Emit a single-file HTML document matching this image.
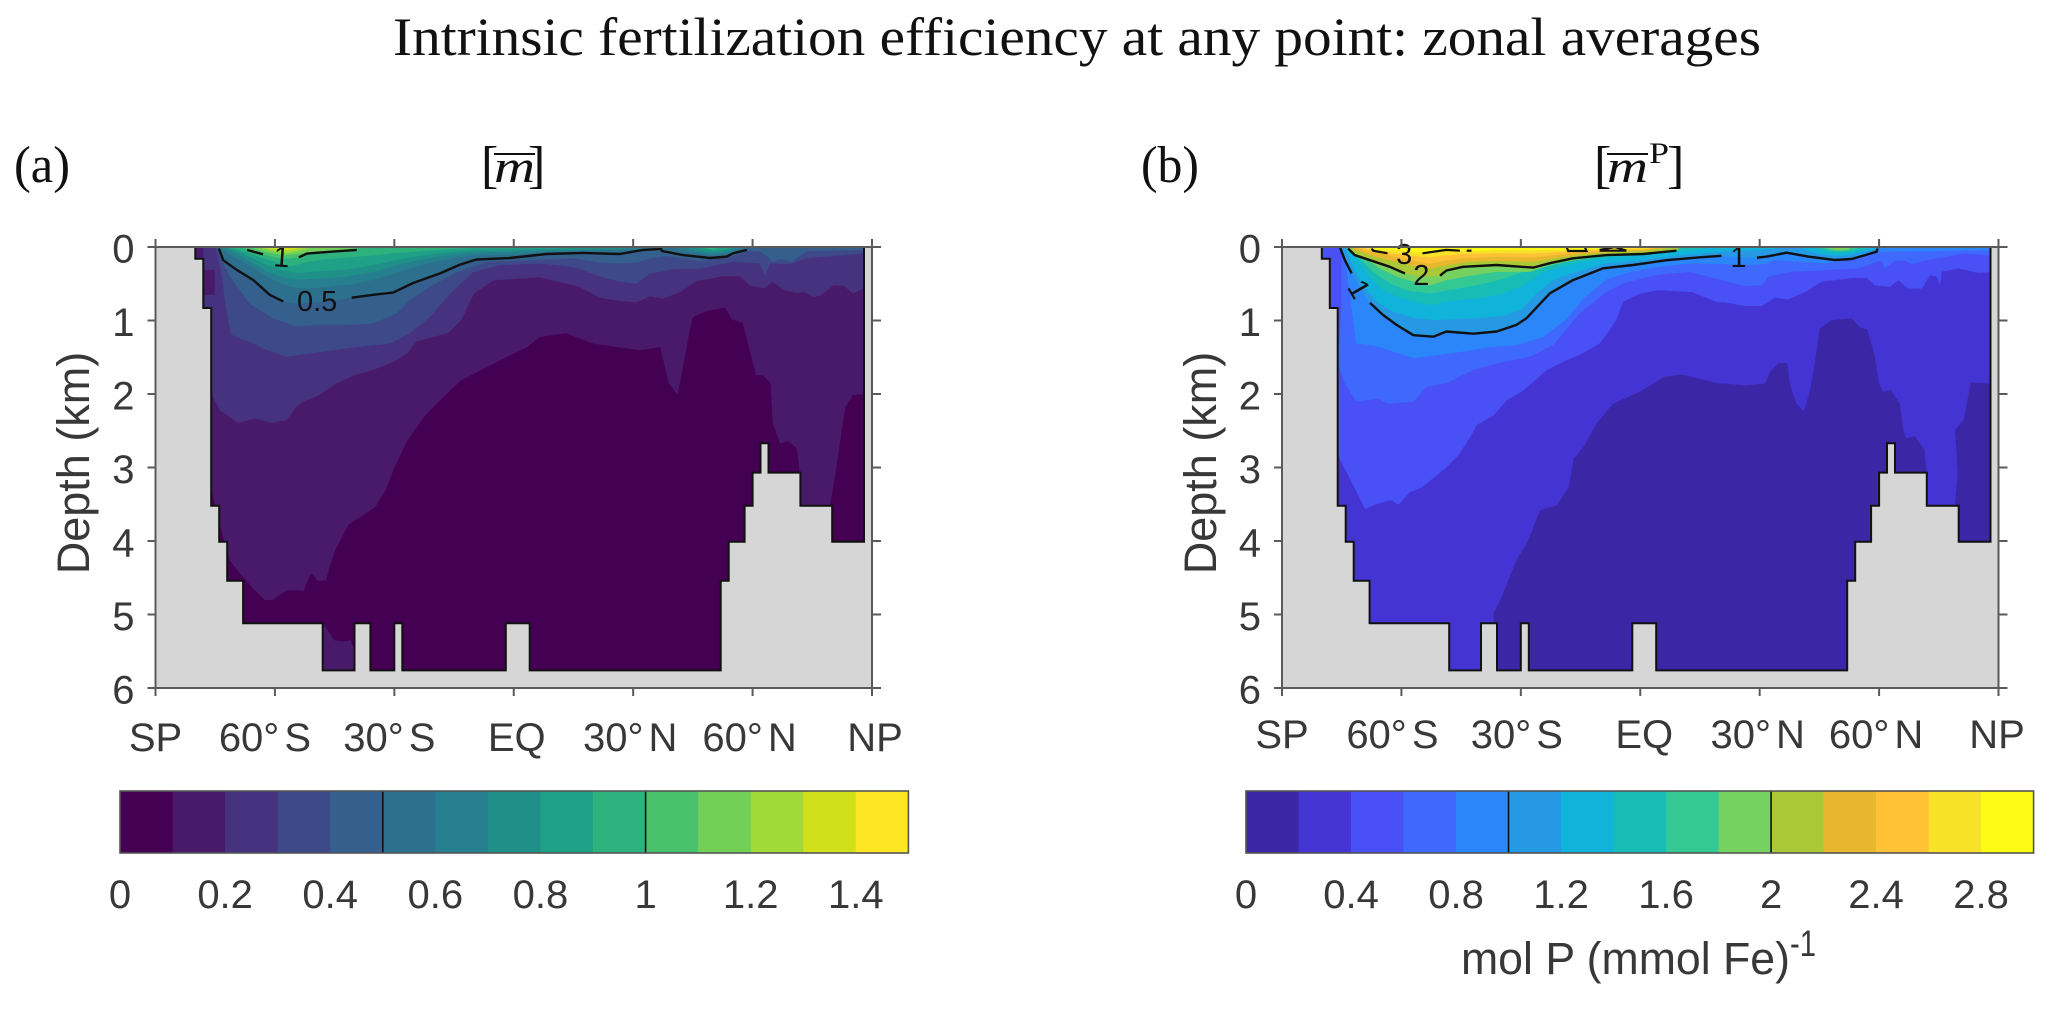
<!DOCTYPE html>
<html lang="en">
<head>
<meta charset="utf-8">
<title>Intrinsic fertilization efficiency: zonal averages</title>
<style>
html,body{margin:0;padding:0;background:#fff;}
svg{display:block;}
.sans{font-family:"Liberation Sans",Arial,sans-serif;fill:#383838;}
.serif{font-family:"Liberation Serif","Times New Roman",serif;fill:#111;}
</style>
</head>
<body>
<svg id="figure" xmlns="http://www.w3.org/2000/svg" width="2067" height="1012" viewBox="0 0 2067 1012">
  <rect width="2067" height="1012" fill="#fff"/>
  <text class="serif" x="393" y="55" font-size="54" textLength="1368" lengthAdjust="spacingAndGlyphs">Intrinsic fertilization efficiency at any point: zonal averages</text>
  <text class="serif" x="14" y="182" font-size="52" textLength="56" lengthAdjust="spacingAndGlyphs">(a)</text>
  <text class="serif" x="1141" y="182" font-size="52" textLength="58" lengthAdjust="spacingAndGlyphs">(b)</text>
  <g>
    <text class="serif" x="481" y="182" font-size="52">[</text>
    <text class="serif" x="494" y="182" font-size="45" font-style="italic" textLength="41" lengthAdjust="spacingAndGlyphs">m</text>
    <line x1="494" x2="535" y1="154" y2="154" stroke="#111" stroke-width="2"/>
    <text class="serif" x="528" y="182" font-size="52">]</text>
  </g>
  <g>
    <text class="serif" x="1594" y="182" font-size="52">[</text>
    <text class="serif" x="1607" y="182" font-size="45" font-style="italic" textLength="41" lengthAdjust="spacingAndGlyphs">m</text>
    <line x1="1607" x2="1648" y1="154" y2="154" stroke="#111" stroke-width="2"/>
    <text class="serif" x="1649" y="163" font-size="30" textLength="20" lengthAdjust="spacingAndGlyphs">P</text>
    <text class="serif" x="1667" y="182" font-size="52">]</text>
  </g>
  <text class="sans" transform="translate(89,463) rotate(-90)" text-anchor="middle" font-size="45">Depth (km)</text>
  <text class="sans" transform="translate(1216,463) rotate(-90)" text-anchor="middle" font-size="45">Depth (km)</text>
  <g>
    <text class="sans" x="1461" y="974" font-size="45.5" textLength="329" lengthAdjust="spacingAndGlyphs">mol P (mmol Fe)</text>
    <text class="sans" x="1790" y="956" font-size="37" textLength="26" lengthAdjust="spacingAndGlyphs">-1</text>
  </g>
</svg>
<script>
// Shared axis tick data
const xTickLats = [-90, -60, -30, 0, 30, 60, 90];
const xTickLabels = [['SP'], ['60°', 'S'], ['30°', 'S'], ['EQ'], ['30°', 'N'], ['60°', 'N'], ['NP']];
const depthTicks = [0, 1, 2, 3, 4, 5, 6];

// Sea-floor: latitude cell edges and the depth (km) of each cell
const bathLatEdges = [-80, -78, -76, -74, -72, -68, -48, -40, -36, -30, -28, -2, 4, 52, 54, 58, 60, 62, 64, 72, 80, 88];
const bathDepths = [0.16, 0.83, 3.52, 4.01, 4.54, 5.12, 5.76, 5.12, 5.76, 5.12, 5.76, 5.12, 5.76, 4.54, 4.01, 3.52, 3.07, 2.67, 3.07, 3.52, 4.01];

// Panel (a): contour levels, colours; each contour is [lat, depth km] pairs
const aLevels = [0, 0.1, 0.2, 0.3, 0.4, 0.5, 0.6, 0.7, 0.8, 0.9, 1.0, 1.1, 1.2, 1.3, 1.4];
const aColors = ['#440154', '#4a1a6a', '#46327e', '#3e4989', '#355f8d', '#2d708e', '#267f8e', '#1f9088', '#1fa187', '#2db27d', '#4ac16d', '#73d056', '#a0da39', '#d0e11c', '#fde725'];
const aTicks = [0, 0.2, 0.4, 0.6, 0.8, 1, 1.2, 1.4];
const a01 = [[-80,3.28],[-76,3.28],[-73.8,3.78],[-71.3,4.26],[-68.8,4.44],[-65,4.67],[-62.5,4.80],[-60.7,4.80],[-57,4.67],[-53.7,4.67],[-52.9,4.68],[-51.2,4.46],[-50.7,4.44],[-49.2,4.54],[-47.2,4.53],[-46.2,4.33],[-44.9,4.12],[-41.6,3.78],[-40.6,3.74],[-34.9,3.54],[-32.3,3.31],[-29.8,2.97],[-26.8,2.63],[-22.3,2.29],[-18.5,2.08],[-13.2,1.81],[-3.5,1.54],[3.3,1.36],[6.6,1.22],[13.1,1.17],[19.9,1.31],[31.5,1.40],[37,1.36],[37.2,1.44],[39,1.85],[41.1,2.0],[42.2,1.71],[44.3,1.09],[45,.95],[48.5,.87],[53.1,.82],[54.8,.98],[57.6,1.03],[58.9,1.31],[60.9,1.74],[62.6,1.74],[64.6,1.85],[65.1,2.39],[66.9,2.67],[68.9,2.64],[71.1,2.73],[71.6,2.92],[71.9,3.07],[72.4,3.58],[79.4,3.51],[80.7,3.10],[83.2,2.18],[85.2,2.01],[90,1.99]];
const a02 = [[-80,1.99],[-75.9,1.99],[-73.8,2.22],[-69.2,2.39],[-65,2.33],[-60.8,2.39],[-57.1,2.35],[-54.6,2.17],[-52.9,2.10],[-49.1,2.02],[-44.5,1.85],[-39.9,1.74],[-35.3,1.67],[-30.3,1.56],[-26.9,1.45],[-24.4,1.28],[-16.5,1.17],[-13.2,.99],[-10,.63],[-5,.45],[6.6,.41],[16.6,.54],[21.7,.69],[26.7,.73],[30.9,.75],[34.2,.67],[37.6,.70],[41.8,.61],[46,.46],[52.6,.395],[56.8,.395],[59.3,.52],[63.1,.56],[64.8,.47],[68.1,.585],[71.1,.62],[73.2,.61],[75.3,.68],[77.3,.65],[80.3,.52],[82.8,.52],[85.3,.63],[87.8,.56],[90,.56]];
const a03 = [[-74.8,0],[-73.6,.3],[-72.3,.8],[-71,1.19],[-65.4,1.31],[-62.1,1.40],[-57.1,1.49],[-50.4,1.44],[-40.3,1.365],[-31.1,1.31],[-26.1,1.17],[-21.1,.95],[-16,.63],[-10.2,.34],[-3.5,.245],[6.5,.22],[14.9,.27],[21.7,.40],[26.7,.47],[30.9,.495],[34.2,.36],[40.1,.30],[46.8,.29],[55.2,.20],[61.9,.22],[63.1,.38],[64.4,.22],[69.4,.23],[73.6,.15],[87.8,.086],[90,.086]];
const a04 = [[-74.6,0],[-73.4,.17],[-71,.42],[-66.3,.77],[-60.8,.96],[-54.6,1.08],[-50.4,1.06],[-43.7,1.06],[-35.3,1.04],[-29.4,.90],[-26.1,.72],[-21.1,.54],[-14.4,.34],[-6.9,.2],[6.5,.17],[14.9,.15],[21.7,.21],[26.7,.22],[30.9,.21],[34.2,.155],[38.4,.12],[46.8,.19],[55.2,.12],[59.3,.05],[61.9,.06],[63.5,.12],[65.2,.20],[66.9,.16],[69.8,.2],[73.6,.05],[87.8,.04],[90,.04]];
const a05 = [[-74.2,0],[-74.1,.02],[-73,.18],[-69.6,.31],[-65.4,.45],[-61.3,.65],[-57.9,.74],[-53.7,.77],[-49.1,.75],[-40.7,.69],[-35.3,.65],[-30.3,.62],[-25.3,.49],[-18.6,.36],[-13.5,.24],[-9.4,.17],[-1,.15],[8.2,.095],[17.4,.08],[26.6,.095],[32.5,.04],[36,.03],[37,.02],[37.2,.055],[42.6,.11],[49.3,.15],[53.5,.13],[55.1,.086],[58.6,.04],[58.8,0]];
const a06 = [[-74,0],[-72,.08],[-68,.2],[-64,.33],[-60,.46],[-56,.54],[-52,.56],[-48,.55],[-44,.52],[-40,.50],[-35,.44],[-30,.36],[-25,.27],[-20,.2],[-15,.15],[-10,.11],[0,.1],[10,.06],[20,.045],[30,.03],[36,.015],[38,0],[40,0],[44,.06],[50,.11],[54,.08],[58,0]];
const a07 = [[-73,0],[-70,.08],[-66,.2],[-62,.33],[-58,.41],[-54,.44],[-50,.43],[-46,.42],[-42,.40],[-38,.36],[-34,.32],[-30,.25],[-25,.19],[-20,.14],[-15,.10],[-10,.07],[0,.06],[10,.04],[20,.03],[30,.015],[36,0],[43,0],[46,.05],[50,.08],[54,.05],[56,0]];
const a08 = [[-72,0],[-70,.04],[-66,.14],[-62,.24],[-58,.31],[-54,.35],[-50,.33],[-46,.32],[-42,.30],[-38,.27],[-34,.23],[-30,.18],[-25,.13],[-20,.09],[-15,.06],[-10,.04],[0,.03],[10,.02],[20,.01],[26,0],[45,0],[50,.05],[54,.025],[55,0]];
const a09 = [[-71,0],[-68,.05],[-64,.13],[-60,.2],[-56,.26],[-52,.2],[-48,.17],[-44,.15],[-40,.13],[-35,.11],[-30,.08],[-25,.06],[-20,.04],[-15,.02],[-10,.01],[-6,0],[47,0],[50,.03],[53,0]];
const a10 = [[-67.5,0],[-67,.04],[-63,.1],[-58,.16],[-54,.14],[-52,.09],[-50,.08],[-45,.06],[-39.4,.04],[-39,0]];
const a11 = [[-66,0],[-63,.06],[-58,.11],[-54,.09],[-50,.06],[-45,.04],[-42,.03],[-40,0]];
const a12 = [[-64,0],[-60,.06],[-57,.08],[-54,.05],[-51,0]];
const a13 = [[-63,0],[-59,.04],[-56,.04],[-53,0]];
const a14 = [[-58,0],[-57,.015],[-56,0]];
const aBlobBottom = [[-48,5.12],[-45,5.35],[-43,5.37],[-41,5.35],[-40,5.48],[-40,5.76],[-48,5.76]];
const aBlobWall = [[-78,.31],[-75.1,.31],[-75.1,.65],[-78,.65]];
const aBlobCorner = [[-80,0],[-78,0],[-78,.16],[-80,.16]];

// Panel (b): contour levels, colours and contours
const bLevels = [0, 0.2, 0.4, 0.6, 0.8, 1.0, 1.2, 1.4, 1.6, 1.8, 2.0, 2.2, 2.4, 2.6, 2.8];
const bColors = ['#3b26a6', '#4534d4', '#4950f5', '#3f68fd', '#2b86f9', '#2699e5', '#10b3da', '#18bcb6', '#34c894', '#75d160', '#abc836', '#e7b82d', '#ffc136', '#f7e227', '#fcfb13'];
const bTicks = [0, 0.4, 0.8, 1.2, 1.6, 2, 2.4, 2.8];
const b02 = [[-80,6],[-37,6],[-36.9,5.12],[-36.9,4.98],[-35.2,4.80],[-31,4.24],[-28.5,4.03],[-25.2,3.58],[-21,3.51],[-18,3.26],[-16.8,2.88],[-14.3,2.72],[-11.8,2.47],[-11,2.40],[-6.9,2.13],[-.3,1.97],[6.2,1.76],[10.5,1.73],[19.5,1.85],[21.3,1.855],[26.3,1.88],[31.3,1.855],[32.6,1.70],[34.7,1.575],[37,1.575],[37.6,1.855],[39.3,2.13],[41.1,2.23],[42.6,1.95],[43.9,1.54],[45,1.11],[48.1,.99],[53.1,.97],[55.2,1.09],[57.1,1.12],[59,1.49],[60,1.855],[61.1,1.97],[62.9,1.94],[65.3,2.13],[66.1,2.49],[66.9,2.6],[69,2.57],[71.5,2.76],[72,3.07],[72,3.6],[79,3.6],[79,3.51],[79.7,3.08],[79,2.49],[81.2,2.35],[83,1.84],[87.9,1.855],[90,1.855]];
const b04 = [[-80,2.83],[-76,2.83],[-72.9,3.15],[-69.1,3.56],[-66.6,3.5],[-62.8,3.44],[-60.7,3.5],[-57.8,3.33],[-54.9,3.27],[-49,3.01],[-45.7,2.83],[-42.7,2.58],[-41.1,2.42],[-36.9,2.29],[-33.5,2.08],[-29.4,1.95],[-23.4,1.67],[-19.4,1.56],[-14.3,1.44],[-10.2,1.31],[-8,1.15],[-6.1,.99],[-4.3,.74],[0,.63],[4.7,.585],[13,.61],[19.5,.75],[21.3,.75],[26.3,.8],[30.5,.8],[33.9,.685],[37.2,.71],[41.4,.61],[45.6,.47],[53.1,.42],[56.9,.42],[59,.52],[62.7,.54],[64.8,.45],[67.3,.56],[70.7,.56],[72.8,.38],[74.5,.40],[75.3,.51],[75.7,.335],[79.9,.29],[84.9,.35],[87.9,.34],[90,.34]];
const b06 = [[-75,0],[-75,.8],[-75.9,1.58],[-74.2,1.85],[-71.3,2.10],[-65.8,2.06],[-63.3,2.13],[-57,2.10],[-53.7,1.90],[-48.7,1.85],[-42,1.67],[-34.4,1.56],[-27.7,1.49],[-21.9,1.33],[-19.4,1.17],[-15.2,.90],[-8.5,.61],[-4.3,.49],[4.1,.38],[12.4,.335],[20.8,.45],[26.3,.53],[30.5,.52],[32.2,.40],[38,.335],[54.8,.29],[60.6,.18],[61.5,.29],[64,.186],[66.5,.186],[68.2,.23],[71.5,.18],[81.6,.086],[87.4,.11],[90,.11]];
const b08 = [[-74.5,0],[-73.4,.45],[-71.3,1.31],[-67.9,1.33],[-65.4,1.36],[-62.1,1.42],[-57,1.51],[-51.2,1.47],[-44.5,1.42],[-37.8,1.36],[-31.1,1.33],[-24.4,1.22],[-18.5,.98],[-14.3,.70],[-8.5,.44],[-2.6,.335],[4.1,.27],[12.4,.22],[21.3,.23],[26.3,.245],[31.3,.23],[33.9,.177],[46.4,.22],[54.8,.15],[59.8,.064],[88,.04],[90,.04]];
const b10 = [[-75.5,0],[-75.4,.01],[-74.2,.18],[-72.5,.36],[-67.9,.76],[-64.6,.925],[-61.2,1.06],[-57,1.20],[-52,1.22],[-48.7,1.15],[-42,1.18],[-36.1,1.15],[-31.1,1.06],[-28.6,.97],[-22.7,.63],[-16.9,.45],[-9.3,.29],[-1.8,.245],[6.6,.18],[15,.14],[20.4,.12],[25,.13],[29.3,.145],[31.8,.13],[36.8,.077],[42.2,.13],[48.9,.177],[53.1,.163],[56.5,.11],[59.4,.063],[59.6,.02],[59.7,0]];
const b12 = [[-74.2,0],[-72.5,.22],[-70,.49],[-66.2,.74],[-62.1,.88],[-57,.96],[-52,.99],[-46.1,.98],[-39.5,.96],[-33.6,.925],[-29.4,.83],[-26.1,.63],[-21.9,.45],[-16,.335],[-8.5,.22],[0,.18],[8.3,.12],[16.6,.08],[22.5,.05],[29.2,.04],[33.4,.02],[35,0],[40,0],[42,.05],[45,.09],[49,.12],[53,.1],[56,.06],[59,.03],[60,0]];
const b14 = [[-73,0],[-71.3,.15],[-68.3,.38],[-64.6,.585],[-59.6,.70],[-52.8,.79],[-47.8,.73],[-41.1,.70],[-34.4,.63],[-29.4,.52],[-24.4,.335],[-18.5,.245],[-11,.154],[-.9,.11],[8.3,.064],[14.1,.03],[18.3,0],[43,0],[46,.06],[50,.08],[54,.06],[57,.02],[58,0]];
const b16 = [[-72.1,0],[-70,.18],[-67.1,.335],[-62.9,.49],[-58.7,.585],[-52.8,.63],[-47.8,.58],[-41.1,.52],[-34.4,.43],[-29.4,.335],[-24.4,.22],[-18.5,.154],[-11,.086],[-.9,.05],[6.6,.02],[10,0],[45,0],[48,.05],[51,.06],[54,.03],[55,0]];
const b18 = [[-71.7,0],[-69.2,.154],[-65.4,.29],[-61.2,.40],[-57,.47],[-52.8,.52],[-48.7,.45],[-43.6,.395],[-36.1,.335],[-27.7,.335],[-22.7,.245],[-16.9,.177],[-8.5,.12],[0,.095],[5.8,.04],[7.4,0],[46,0],[49,.04],[52,.04],[53,0]];
const b20 = [[-74,0],[-73.4,.02],[-71.7,.11],[-67.9,.18],[-62.9,.27],[-59.1,.36],[-55,.40],[-50.3,.39],[-48.7,.32],[-44.5,.27],[-36.1,.245],[-26.9,.28],[-22.7,.22],[-16.9,.154],[-8.5,.11],[.7,.095],[9.1,.05],[10,0]];
const b20North = [[47,0],[50,.02],[51,0]];
const b22 = [[-72.5,0],[-71.3,.04],[-67.9,.11],[-62.9,.18],[-57.9,.245],[-52.8,.29],[-48.7,.245],[-43.6,.2],[-36.1,.186],[-26.9,.2],[-21.9,.154],[-14.3,.095],[-6.8,.064],[.7,.05],[6.6,.01],[7,0]];
const b24 = [[-71.5,0],[-69,.05],[-65,.09],[-60,.15],[-56,.2],[-52.8,.22],[-48.7,.18],[-44,.15],[-36,.13],[-27,.14],[-22,.11],[-15,.07],[-7,.05],[.7,.035],[5,0]];
const b26 = [[-70.5,0],[-67,.045],[-62,.085],[-57,.12],[-52.8,.14],[-48.7,.11],[-44,.09],[-36,.08],[-27,.085],[-22,.07],[-15,.045],[-7,.03],[2,.02],[4,0]];
const b28 = [[-69.5,0],[-66,.03],[-60,.045],[-55,.07],[-52,.075],[-48,.05],[-42,.05],[-36,.04],[-27,.04],[-20,.035],[-14,.03],[-7,.02],[0,.01],[2,0]];
const bLevel3Left = [[-67.5,.02],[-67.1,.05],[-63.5,.086]];
const bLevel3Mid = [[-54.7,.086],[-48.7,.04],[-45.3,.05]];
const bLevel3Dash = [[-43.6,.05],[-42.4,.05]];
const bLevel3TriA = [[-18.5,0],[-18.1,.054],[-13.5,.054],[-13.9,0]];
const bLevel3TriB = [[-10.2,.04],[-6.4,0],[-3.5,.05],[-5.6,.05],[-10.2,.05]];

// Layout only (not data)
const PLOT_TOP = 247, PLOT_BOTTOM = 688, PLOT_W = 716.5;
const xLabelNudgeA = [0, -10, -5, 3, -3, -3, 3];
const xLabelNudgeB = [0, -9, -4, 4, -2, -3, -1.5];
const svg = document.getElementById('figure');
const NS = 'http://www.w3.org/2000/svg';

function mk(tag, attrs, parent) {
  const el = document.createElementNS(NS, tag);
  for (const k in attrs) el.setAttribute(k, attrs[k]);
  (parent || svg).appendChild(el);
  return el;
}

function drawPanel(p) {
  const xOf = lat => p.ox + (lat + 90) * PLOT_W / 180;
  const yOf = km => PLOT_TOP + km * (PLOT_BOTTOM - PLOT_TOP) / 6;
  const g = mk('g', {});
  
  

  // ocean base colour
  const base = mk('rect', {x: xOf(-90), y: yOf(0), width: PLOT_W, height: yOf(6) - yOf(0), fill: p.colors[0]}, g);
  
  

  // filled contour bands: each region lies between the curve and the surface
  p.bands.forEach((b, i) => {
    const color = p.colors[b.index];
    const pts = b.curve;
    let d = 'M' + xOf(pts[0][0]).toFixed(1) + ' ' + yOf(0).toFixed(1);
    pts.forEach(q => { d += 'L' + xOf(q[0]).toFixed(1) + ' ' + yOf(q[1]).toFixed(1); });
    d += 'L' + xOf(pts[pts.length - 1][0]).toFixed(1) + ' ' + yOf(0).toFixed(1) + 'Z';
    const band = mk('path', {d: d, fill: color, stroke: color, 'stroke-width': 0.5}, g);
    
    
  });

  // closed patches
  p.patches.forEach(b => {
    const d = 'M' + b.pts.map(q => xOf(q[0]).toFixed(1) + ' ' + yOf(q[1]).toFixed(1)).join('L') + 'Z';
    const patch = mk('path', {d: d, fill: p.colors[b.index]}, g);
    
    
  });

  // land mask built from the sea-floor arrays
  let floor = [];
  floor.push([bathLatEdges[0], 0]);
  bathDepths.forEach((dep, i) => {
    floor.push([bathLatEdges[i], dep]);
    floor.push([bathLatEdges[i + 1], dep]);
  });
  floor.push([bathLatEdges[bathLatEdges.length - 1], 0]);
  const floorStr = floor.map(q => xOf(q[0]).toFixed(1) + ' ' + yOf(q[1]).toFixed(1)).join('L');
  const land = mk('path', {
    d: 'M' + xOf(-90) + ' ' + yOf(0) + 'L' + floorStr + 'L' + xOf(90) + ' ' + yOf(0) + 'L' + xOf(90) + ' ' + yOf(6) + 'L' + xOf(-90) + ' ' + yOf(6) + 'Z',
    fill: '#d6d6d6'
  }, g);
  
  
  const floorLine = mk('path', {d: 'M' + floorStr, fill: 'none', stroke: '#111', 'stroke-width': 2}, g);
  
  

  // contour lines with gaps at their labels
  p.lines.forEach(l => {
    let d = '', pen = false, prev = null;
    l.curve.forEach(q => {
      const gaps = l.gaps || [];
      const hidden = q[1] === 0 || gaps.some(g2 => q[0] > g2[0] && q[0] < g2[1]);
      if (hidden) { pen = false; prev = q; return; }
      if (prev) {
        const mid = (prev[0] + q[0]) / 2;
        if (gaps.some(g2 => mid > g2[0] && mid < g2[1])) pen = false;
      }
      d += (pen ? 'L' : 'M') + xOf(q[0]).toFixed(1) + ' ' + yOf(q[1]).toFixed(1);
      pen = true;
      prev = q;
    });
    const line = mk('path', {d: d, fill: 'none', stroke: '#111', 'stroke-width': 2.4, 'stroke-linejoin': 'round'}, g);
    
    
  });
  p.segments.forEach(s => {
    const d = 'M' + s.map(q => xOf(q[0]).toFixed(1) + ' ' + yOf(q[1]).toFixed(1)).join('L');
    const seg = mk('path', {d: d, fill: 'none', stroke: '#111', 'stroke-width': 2.2}, g);
    
    
  });

  // contour labels
  p.labels.forEach(l => {
    const t = mk('text', {
      transform: 'translate(' + xOf(l.lat).toFixed(1) + ',' + yOf(l.km).toFixed(1) + ') rotate(' + (l.rot || 0) + ')',
      'text-anchor': 'middle', 'font-size': 29,
      'font-family': '"Liberation Sans",Arial,sans-serif', fill: '#111'
    }, g);
    t.textContent = l.text;
    
    
  });

  // axes
  const axColor = '#5a5a5a';
  const ax = mk('g', {stroke: axColor, 'stroke-width': 2, fill: 'none'}, g);
  
  
  mk('line', {x1: xOf(-90), x2: xOf(-90), y1: yOf(0), y2: yOf(6)}, ax);
  mk('line', {x1: xOf(90), x2: xOf(90), y1: yOf(0), y2: yOf(6)}, ax);

  depthTicks.forEach(v => {
    const tl = mk('line', {x1: xOf(-90) - 8, x2: xOf(90) + 9, y1: yOf(v), y2: yOf(v)}, ax);
    if (v !== 0 && v !== 6) tl.setAttribute('stroke-dasharray', '8 ' + PLOT_W + ' 9');
    
    
    const lab = mk('text', {x: xOf(-90) - 21, y: yOf(v) + 15.5, 'text-anchor': 'end', 'font-size': 40, class: 'sans'}, g);
    lab.textContent = v;
    
    
  });

  xTickLats.forEach((lat, i) => {
    const t1 = mk('line', {x1: xOf(lat), x2: xOf(lat), y1: yOf(0) - 8, y2: yOf(0)}, ax);
    
    
    const t2 = mk('line', {x1: xOf(lat), x2: xOf(lat), y1: yOf(6), y2: yOf(6) + 8}, ax);
    
    
    const lab = mk('text', {x: xOf(lat) + p.nudge[i], y: p.xLabelY, 'text-anchor': 'middle', 'font-size': 40, class: 'sans'}, g);
    lab.appendChild(document.createTextNode(xTickLabels[i][0]));
    if (xTickLabels[i][1]) {
      const sp = mk('tspan', {dx: 5}, lab);
      sp.textContent = xTickLabels[i][1];
    }
    
    
  });

  // colorbar
  const cb = mk('g', {}, svg);
  
  
  const cOf = v => p.cbx0 + (v / p.cmax) * (p.cbx1 - p.cbx0);
  const cy0 = 791, cy1 = 853;
  p.levels.forEach((lv, i) => {
    const hi = i + 1 < p.levels.length ? p.levels[i + 1] : p.cmax;
    const r = mk('rect', {x: cOf(lv), y: cy0, width: cOf(hi) - cOf(lv) + 0.4, height: cy1 - cy0, fill: p.colors[i]}, cb);
    
    
  });
  p.cbarLines.forEach(v => {
    const l = mk('line', {x1: cOf(v), x2: cOf(v), y1: cy0, y2: cy1, stroke: '#111', 'stroke-width': 1.6}, cb);
    
    
  });
  const frame = mk('rect', {x: p.cbx0, y: cy0, width: p.cbx1 - p.cbx0, height: cy1 - cy0, fill: 'none', stroke: '#555', 'stroke-width': 1.6}, cb);
  
  
  p.ticks.forEach(v => {
    const t = mk('text', {x: cOf(v), y: 908, 'text-anchor': 'middle', 'font-size': 40, class: 'sans'}, cb);
    t.textContent = v;
    
    
  });
}

drawPanel({
  id: 'a', ox: 155.5, xLabelY: 751, nudge: xLabelNudgeA, levels: aLevels, colors: aColors, ticks: aTicks, cmax: 1.5,
  cbx0: 120, cbx1: 908.4, cbarLines: [0.5, 1],
  bands: [
    {index: 1, curve: a01}, {index: 2, curve: a02}, {index: 3, curve: a03}, {index: 4, curve: a04},
    {index: 5, curve: a05}, {index: 6, curve: a06}, {index: 7, curve: a07}, {index: 8, curve: a08},
    {index: 9, curve: a09}, {index: 10, curve: a10}, {index: 11, curve: a11}, {index: 12, curve: a12},
    {index: 13, curve: a13}, {index: 14, curve: a14}
  ],
  patches: [{index: 1, pts: aBlobBottom}, {index: 1, pts: aBlobWall}, {index: 1, pts: aBlobCorner}],
  lines: [{curve: a05, gaps: [[-57.9, -40.7]]}, {curve: a10, gaps: [[-63, -54]]}],
  segments: [],
  labels: [{text: '0.5', lat: -49.4, km: .87}, {text: '1', lat: -58.5, km: .27, rot: 4}]
});

drawPanel({
  id: 'b', ox: 1282, xLabelY: 748, nudge: xLabelNudgeB, levels: bLevels, colors: bColors, ticks: bTicks, cmax: 3,
  cbx0: 1246, cbx1: 2033.6, cbarLines: [1, 2],
  bands: [
    {index: 1, curve: b02}, {index: 2, curve: b04}, {index: 3, curve: b06}, {index: 4, curve: b08},
    {index: 5, curve: b10}, {index: 6, curve: b12}, {index: 7, curve: b14}, {index: 8, curve: b16},
    {index: 9, curve: b18}, {index: 10, curve: b20}, {index: 10, curve: b20North}, {index: 11, curve: b22},
    {index: 12, curve: b24}, {index: 13, curve: b26}, {index: 14, curve: b28}
  ],
  patches: [],
  lines: [{curve: b10, gaps: [[-72.5, -67.9], [20.4, 29.3]]}, {curve: b20, gaps: [[-59.1, -50.3]]}],
  segments: [bLevel3Left, bLevel3Mid, bLevel3Dash, bLevel3TriA, bLevel3TriB],
  labels: [
    {text: '3', lat: -59.3, km: .23}, {text: '2', lat: -55, km: .52},
    {text: '1', lat: 24.7, km: .27}, {text: '1', lat: -72.8, km: .64, rot: 60}
  ]
});
</script>
</body>
</html>
